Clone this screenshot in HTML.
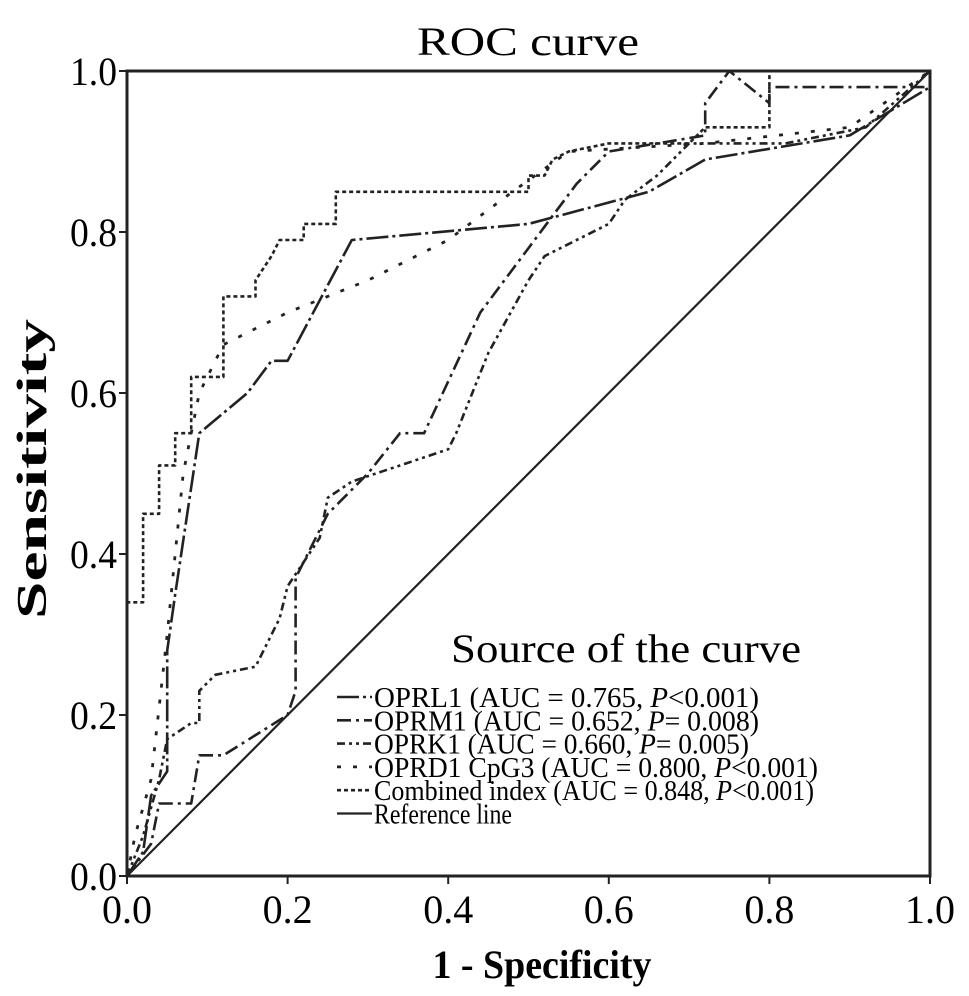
<!DOCTYPE html>
<html><head><meta charset="utf-8"><style>
html,body{margin:0;padding:0;background:#fff;}
svg{display:block;font-family:"Liberation Serif",serif;}
</style></head><body>
<svg id="chart" width="969" height="996" viewBox="0 0 969 996">
<text x="528" y="55" font-size="40" textLength="222" lengthAdjust="spacingAndGlyphs" text-anchor="middle">ROC curve</text>
<g id="axes"></g>
<g id="series"></g>
<g id="legend"></g>
<text x="542" y="978" font-size="40" font-weight="bold" textLength="219" lengthAdjust="spacingAndGlyphs" text-anchor="middle">1 - Specificity</text>
<text transform="translate(46,469) rotate(-90)" font-size="42" font-weight="bold" textLength="300" lengthAdjust="spacingAndGlyphs" text-anchor="middle">Sensitivity</text>
</svg>
<script>
const ticks=[0,0.2,0.4,0.6,0.8,1.0];
const tickLabels=["0.0","0.2","0.4","0.6","0.8","1.0"];
const seriesNames=["OPRL1","OPRM1","OPRK1","OPRD1 CpG3","Combined index","Reference line"];
const legendLabels=[
 ["OPRL1 (AUC = 0.765,  ","P","<0.001)"],
 ["OPRM1 (AUC = 0.652, ","P","= 0.008)"],
 ["OPRK1 (AUC = 0.660, ","P","= 0.005)"],
 ["OPRD1 CpG3 (AUC = 0.800, ","P","<0.001)"],
 ["Combined index (AUC = 0.848, ","P","<0.001)"],
 ["Reference line","",""]];
const oprl1X=[0,0.02,0.03,0.05,0.05,0.06,0.09,0.15,0.18,0.2,0.28,0.5,0.65,0.72,0.9,1];
const oprl1Y=[0,0.03,0.1,0.13,0.28,0.35,0.55,0.6,0.64,0.64,0.79,0.81,0.85,0.89,0.92,0.98];
const oprm1X=[0,0.03,0.04,0.08,0.09,0.12,0.2,0.21,0.21,0.25,0.3,0.34,0.37,0.44,0.5,0.56,0.6,0.72,0.72,0.75,0.8,0.8,0.88,1];
const oprm1Y=[0,0.04,0.09,0.09,0.15,0.15,0.2,0.23,0.37,0.45,0.5,0.55,0.55,0.7,0.78,0.86,0.9,0.92,0.96,1,0.96,0.98,0.98,0.98];
const oprk1X=[0,0.02,0.04,0.05,0.08,0.09,0.09,0.11,0.16,0.19,0.2,0.22,0.24,0.25,0.28,0.4,0.41,0.45,0.5,0.52,0.6,0.62,0.66,0.7,0.82,0.92,1];
const oprk1Y=[0,0.05,0.12,0.17,0.19,0.19,0.23,0.25,0.26,0.32,0.36,0.39,0.42,0.47,0.49,0.53,0.55,0.65,0.74,0.77,0.81,0.84,0.87,0.91,0.91,0.93,1];
const oprd1X=[0,0.01,0.03,0.05,0.07,0.09,0.12,0.2,0.3,0.4,0.48,0.55,0.72,0.9,1];
const oprd1Y=[0,0.05,0.12,0.3,0.5,0.6,0.66,0.7,0.74,0.79,0.85,0.9,0.91,0.93,1];
const combX=[0,0,0.02,0.02,0.04,0.04,0.06,0.06,0.08,0.08,0.12,0.12,0.16,0.16,0.18,0.19,0.22,0.22,0.26,0.26,0.5,0.5,0.52,0.53,0.55,0.6,0.7,0.72,0.8,0.8,1];
const combY=[0,0.34,0.34,0.45,0.45,0.51,0.51,0.55,0.55,0.62,0.62,0.72,0.72,0.74,0.77,0.79,0.79,0.81,0.81,0.85,0.85,0.87,0.87,0.89,0.9,0.91,0.91,0.93,0.93,1,1];
const refX=[0,1], refY=[0,1];

const L=127,R=930,T=71,B=876;
const sx=v=>L+v*(R-L), sy=v=>B-v*(B-T);
const NS="http://www.w3.org/2000/svg";
function mk(tag,attrs,parent){const e=document.createElementNS(NS,tag);for(const k in attrs)e.setAttribute(k,attrs[k]);parent.appendChild(e);return e;}
const axes=document.getElementById('axes');
const frame=mk('rect',{x:L,y:T,width:R-L,height:B-T,fill:'none',stroke:'#222','stroke-width':3},axes);


ticks.forEach((t,i)=>{
 const a=mk('line',{x1:sx(t),x2:sx(t),y1:B,y2:B+8,stroke:'#222','stroke-width':2},axes);
 
 
 const b=mk('line',{x1:L-8,x2:L,y1:sy(t),y2:sy(t),stroke:'#222','stroke-width':2},axes);
 
 
 const xl=mk('text',{x:sx(t),y:923,'font-size':40,'text-anchor':'middle'},axes);xl.textContent=tickLabels[i];
 
 
 const yl=mk('text',{x:L-10,y:sy(t)+14,'font-size':40,'text-anchor':'end',textLength:47,lengthAdjust:'spacingAndGlyphs'},axes);yl.textContent=tickLabels[i];
 
 
});
const styles=[
 {dash:'22 4 3 4',w:2.6},
 {dash:'14 5 3 5',w:2.6},
 {dash:'8 4 3 4 3 4',w:2.6},
 {dash:'4 12',w:2.8},
 {dash:'4 3',w:2.6},
 {dash:'',w:2.2}];
const data=[[oprl1X,oprl1Y],[oprm1X,oprm1Y],[oprk1X,oprk1Y],[oprd1X,oprd1Y],[combX,combY],[refX,refY]];
const sg=document.getElementById('series');
data.forEach((d,i)=>{
 const pts=d[0].map((x,j)=>sx(x).toFixed(1)+','+sy(d[1][j]).toFixed(1)).join(' ');
 const p=mk('polyline',{points:pts,fill:'none',stroke:'#222','stroke-width':styles[i].w,'stroke-dasharray':styles[i].dash,'stroke-linejoin':'round'},sg);
 
 
});
const lg=document.getElementById('legend');
const lt=mk('text',{x:626,y:662,'font-size':40,'text-anchor':'middle',textLength:350,lengthAdjust:'spacingAndGlyphs'},lg);lt.textContent='Source of the curve';


legendLabels.forEach((lab,i)=>{
 const y=697+i*23.3;
 const ln=mk('line',{x1:337,x2:372,y1:y,y2:y,stroke:'#222','stroke-width':styles[i].w,'stroke-dasharray':styles[i].dash},lg);
 
 
 const t=mk('text',{x:374,y:y+10,'font-size':29},lg);
 
 
 const a=mk('tspan',{},t);a.textContent=lab[0];
 if(lab[1]){const b=mk('tspan',{'font-style':'italic'},t);b.textContent=lab[1];const c=mk('tspan',{},t);c.textContent=lab[2];}
 const widths=[385,385,375,444,440,138];
 t.setAttribute('textLength',widths[i]);
 t.setAttribute('lengthAdjust','spacingAndGlyphs');
});
</script>
</body></html>
